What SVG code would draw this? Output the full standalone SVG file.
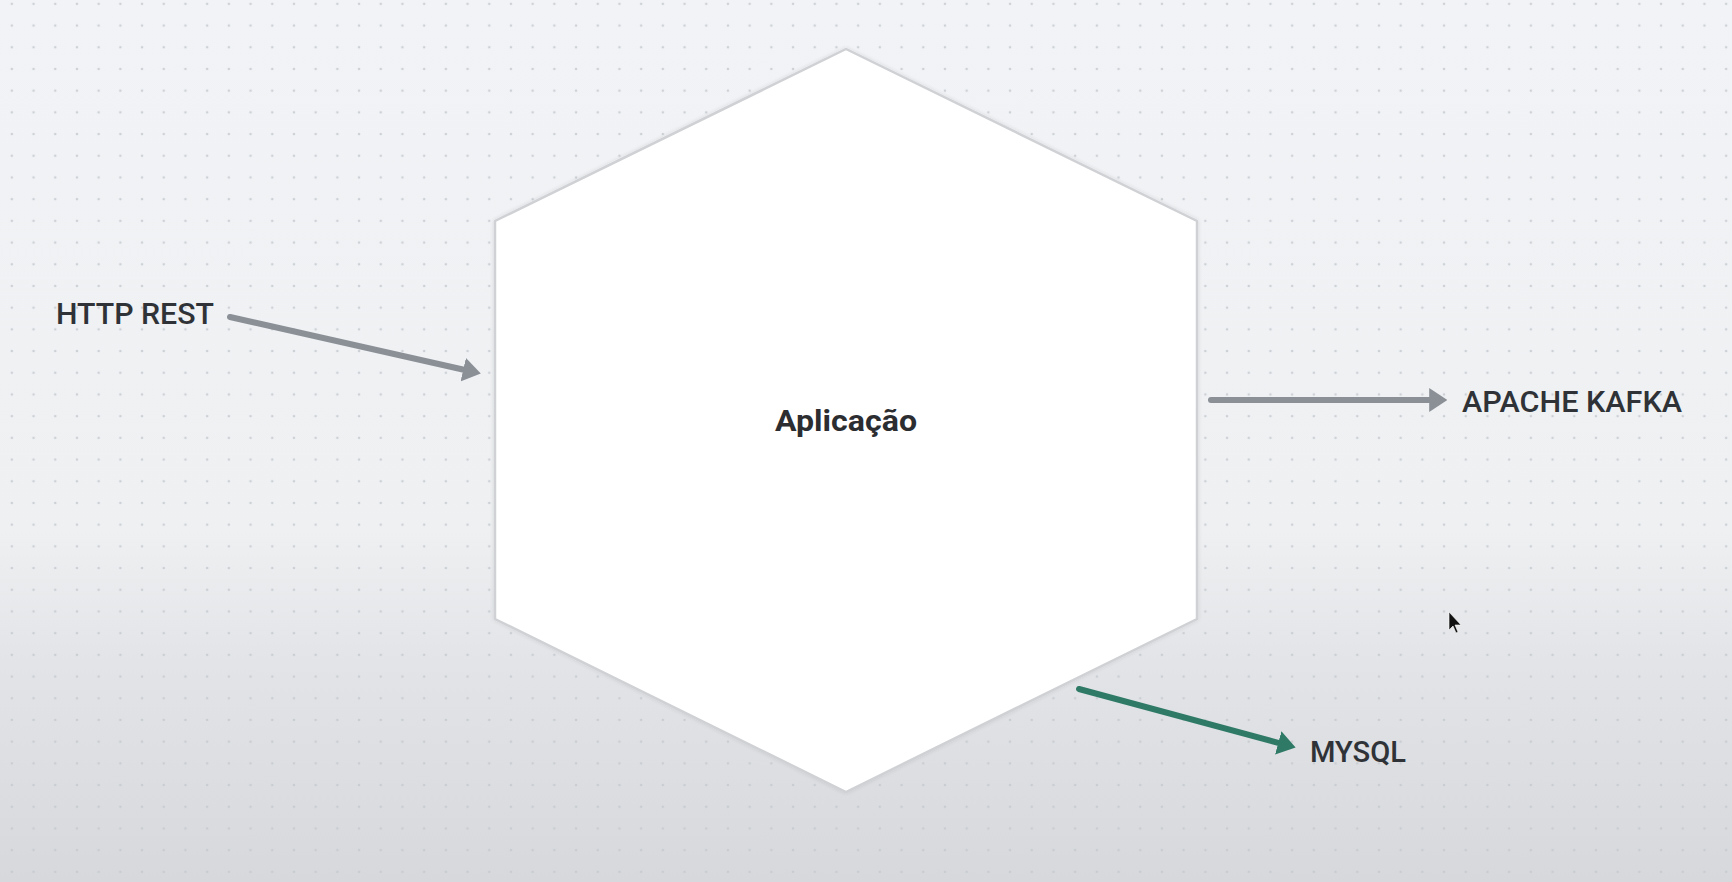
<svg xmlns="http://www.w3.org/2000/svg" width="1732" height="882" viewBox="0 0 1732 882">
  <defs>
    <linearGradient id="bg" x1="0" y1="0" x2="0" y2="1">
      <stop offset="0" stop-color="#f1f3f6"/>
      <stop offset="0.6" stop-color="#eef0f2"/>
      <stop offset="0.75" stop-color="#e2e4e7"/>
      <stop offset="1" stop-color="#d6d8db"/>
    </linearGradient>
    <pattern id="dots" x="1" y="-7" width="21.7" height="21.7" patternUnits="userSpaceOnUse">
      <circle cx="10.85" cy="10.85" r="1.3" fill="#c4c8ce"/>
    </pattern>
    <marker id="arrGray" viewBox="0 0 3 4" refX="0.3" refY="2" markerWidth="3" markerHeight="4" orient="auto" markerUnits="strokeWidth">
      <path d="M0,0 L3,2 L0,4 z" fill="#8b9097"/>
    </marker>
    <marker id="arrGreen" viewBox="0 0 3 4" refX="0.3" refY="2" markerWidth="3" markerHeight="4" orient="auto" markerUnits="strokeWidth">
      <path d="M0,0 L3,2 L0,4 z" fill="#2f7a66"/>
    </marker>
    <filter id="soft" x="-5%" y="-5%" width="110%" height="110%">
      <feGaussianBlur in="SourceAlpha" stdDeviation="2"/>
      <feOffset dy="0"/>
      <feComponentTransfer><feFuncA type="linear" slope="0.12"/></feComponentTransfer>
      <feMerge><feMergeNode/><feMergeNode in="SourceGraphic"/></feMerge>
    </filter>
  </defs>
  <style>
    .lbl { font-family: Roboto, "Liberation Sans", sans-serif; font-size: 29px; font-weight: 500; fill: #2f3236; }
    .title { font-family: Roboto, "Liberation Sans", sans-serif; font-size: 29px; font-weight: bold; fill: #2b2d31; }
    .conn { fill: none; stroke-width: 6; stroke-linecap: round; }
    .gray { stroke: #8b9097; }
    .green { stroke: #2f7a66; }
  </style>
  <rect width="1732" height="882" fill="url(#bg)"/>
  <rect width="1732" height="882" fill="url(#dots)" opacity="0.8"/>

  <g id="app">
    <path d="M846,49 L1197,221 L1197,619 L846,792 L495,619 L495,221 Z" fill="#ffffff" stroke="#cfd1d4" stroke-width="2.5" stroke-linejoin="round" filter="url(#soft)"/>
    <text class="title" x="846" y="431" text-anchor="middle" textLength="142" lengthAdjust="spacingAndGlyphs">Aplicação</text>
  </g>

  <g id="http-rest">
    <text class="lbl" x="56" y="324" textLength="158" lengthAdjust="spacingAndGlyphs">HTTP REST</text>
  </g>
  <g id="apache-kafka">
    <text class="lbl" x="1462" y="412" textLength="220" lengthAdjust="spacingAndGlyphs">APACHE KAFKA</text>
  </g>
  <g id="mysql">
    <text class="lbl" x="1310" y="762" textLength="96" lengthAdjust="spacingAndGlyphs">MYSQL</text>
  </g>

  <g id="connectors">
    <line class="conn gray" x1="230" y1="317" x2="465" y2="370" marker-end="url(#arrGray)"/>
    <line class="conn gray" x1="1211" y1="400" x2="1431" y2="400" marker-end="url(#arrGray)"/>
    <line class="conn green" x1="1079" y1="689" x2="1280" y2="743.3" marker-end="url(#arrGreen)"/>
  </g>

  <path d="M1449,612 L1449,630 L1453,626 L1456,633 L1458,632 L1455,625 L1461,625 Z" fill="#111" stroke="#fff" stroke-width="0.6"/>
</svg>
